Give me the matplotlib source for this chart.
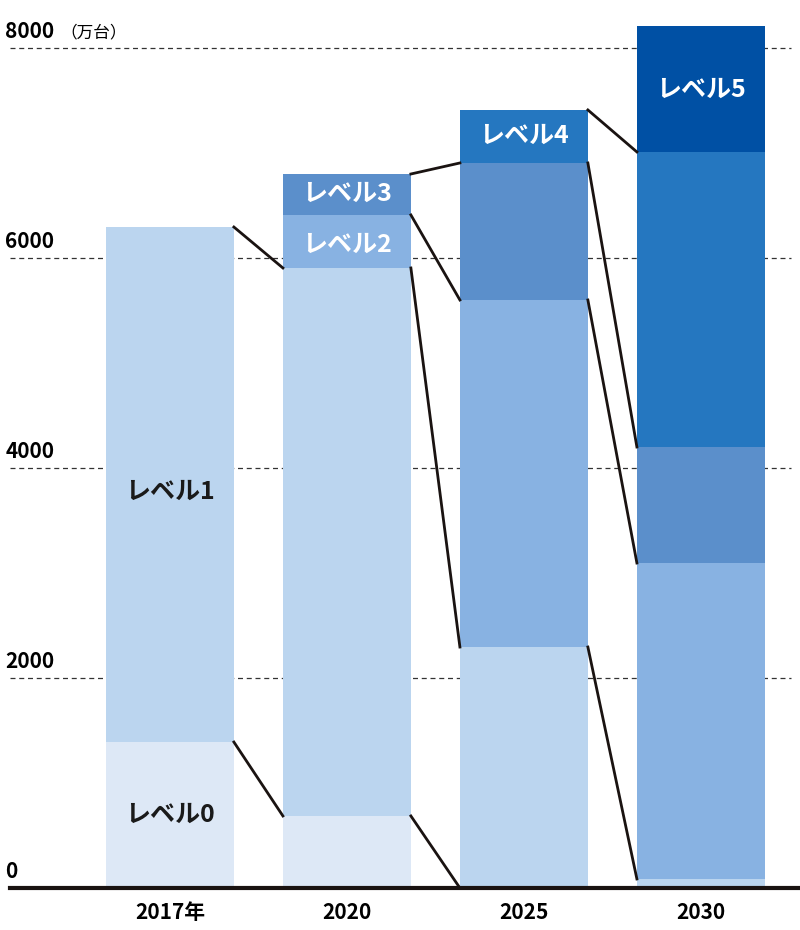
import matplotlib.pyplot as plt
import numpy as np

plt.rcParams['font.family'] = ['Noto Sans CJK JP', 'DejaVu Sans']

years = ["2017年", "2020", "2025", "2030"]
levels = ["レベル0", "レベル1", "レベル2", "レベル3", "レベル4", "レベル5"]
# stacked segment sizes (万台), per level, per year
lv0 = [1390, 686, 0, 0]
lv1 = [4905, 5219, 2295, 86]
lv2 = [0, 505, 3305, 3009]
lv3 = [0, 390, 1305, 1105]
lv4 = [0, 0, 505, 2810]
lv5 = [0, 0, 0, 1200]
colors = ["#dde8f6", "#bbd5ef", "#88b2e2", "#5b8fcb", "#2577c0", "#0050a4"]

data = np.array([lv0, lv1, lv2, lv3, lv4, lv5], dtype=float)
tops = np.cumsum(data, axis=0)

fig = plt.figure(figsize=(8, 9.3), dpi=100)
ax = fig.add_axes([0, 888 / 930 - 882 / 930 + (1 - 888 / 930) - (1 - 888 / 930) + (1 - 888 / 930), 1, 882 / 930])
ax.set_position([0, 1 - 888 / 930, 1, 882 / 930])
ax.set_xlim(-0.96, 3.56)
ax.set_ylim(0, 8400)
ax.axis('off')

x = np.arange(len(years))
w = 0.723
bottom = np.zeros(len(years))
for i in range(len(levels)):
    ax.bar(x, data[i], w, bottom=bottom, color=colors[i], zorder=2)
    bottom += data[i]

# connecting lines between segment boundaries
for j in range(len(years) - 1):
    for i in range(len(levels)):
        a, b = tops[i, j], tops[i, j + 1]
        if data[i, j] == 0 and (i == 0 or tops[i, j] == tops[i - 1, j]) and i > 0:
            continue
        if i > 0 and data[i, j + 1] == 0 and data[i, j] == 0:
            continue
        if a == 0 and b == 0:
            continue
        ax.plot([j + w / 2, j + 1 - w / 2], [a, b], color="#1a1311", lw=2, zorder=3)

for v in [2000, 4000, 6000, 8000]:
    ax.plot([-0.903, 3.51], [v, v], ls=(0, (4, 3)), color="#333333", lw=0.9, zorder=1)
for v in [0, 2000, 4000, 6000, 8000]:
    ax.text(-0.93, v + 60, str(v), fontsize=15, fontweight='bold', ha='left', va='bottom')
ax.text(-0.62, 8060, "（万台）", fontsize=12, ha='left', va='bottom')
ax.plot([-0.903, 3.56], [0, 0], color="#1a1311", lw=3, zorder=4, clip_on=False)

for j, y in enumerate(years):
    ax.text(j, -130, y, fontsize=15, fontweight='bold', ha='center', va='top')

lab = dict(fontsize=18, fontweight='bold', ha='center', va='center')
ax.text(0, 3770, "レベル1", color="#1a1a1a", **lab)
ax.text(0, 700, "レベル0", color="#1a1a1a", **lab)
ax.text(1, 6610, "レベル3", color="white", **lab)
ax.text(1, 6130, "レベル2", color="white", **lab)
ax.text(2, 7160, "レベル4", color="white", **lab)
ax.text(3, 7600, "レベル5", color="white", **lab)

fig.savefig("out.png", dpi=100)
